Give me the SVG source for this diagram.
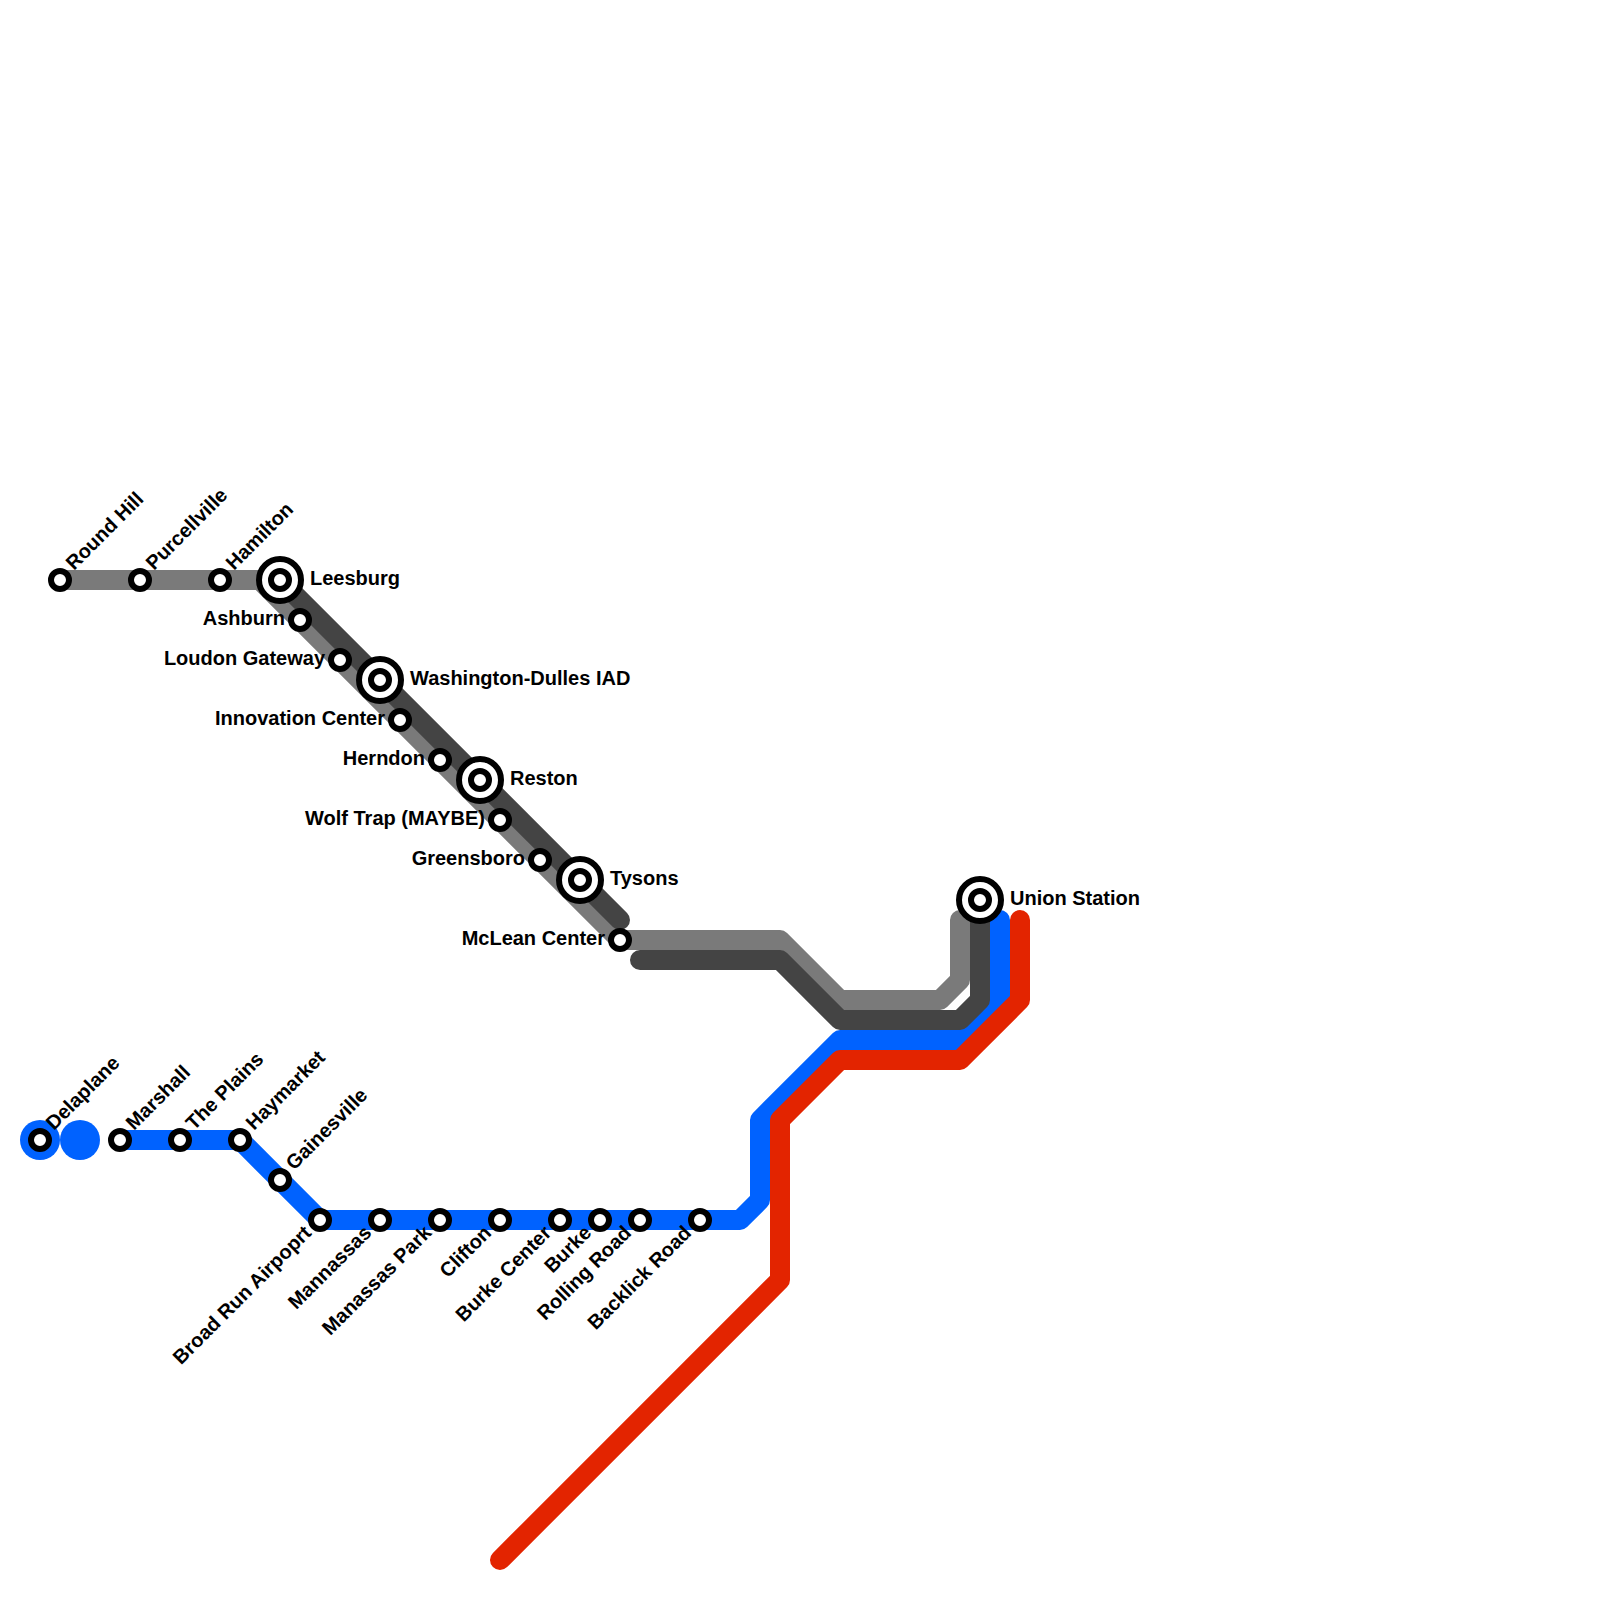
<svg xmlns="http://www.w3.org/2000/svg" width="1600" height="1600" viewBox="0 0 1600 1600">
<style>
.l{fill:none;stroke-width:20;stroke-linecap:round;stroke-linejoin:round}
.s circle{fill:#fff;stroke:#000;stroke-width:6}
text{font-family:"Liberation Sans",Arial,sans-serif;font-weight:700;font-size:20px;fill:#000}
.e{text-anchor:end}
</style>
<rect width="1600" height="1600" fill="#fff"/>
<g id="connectors">
<circle cx="40" cy="1140" r="20" fill="#0062ff"/>
<circle cx="80" cy="1140" r="20" fill="#0062ff"/>
<path class="l" stroke="#0062ff" d="M120 1140H240L320 1220H740L760 1200V1120L840 1040H960L1000 1000V920"/>
<path class="l" stroke="#e32400" d="M1020 920V1000L960 1060H840L780 1120V1280L500 1560"/>
<path class="l" stroke="#7a7a7a" d="M60 580H260L620 940H780L840 1000H940L960 980V920"/>
<path class="l" stroke="#444" d="M280 580L620 920M640 960H780L840 1020H960L980 1000V900"/>
</g>
<g id="n-round-hill" class="s"><circle cx="60" cy="580" r="9"/><text transform="translate(74 571) rotate(-45)">Round Hill</text></g>
<g id="n-purcellville" class="s"><circle cx="140" cy="580" r="9"/><text transform="translate(154 571) rotate(-45)">Purcellville</text></g>
<g id="n-hamilton" class="s"><circle cx="220" cy="580" r="9"/><text transform="translate(234 571) rotate(-45)">Hamilton</text></g>
<g id="n-leesburg" class="s"><circle cx="280" cy="580" r="21"/><circle cx="280" cy="580" r="9"/><text x="310" y="585">Leesburg</text></g>
<g id="n-ashburn" class="s"><circle cx="300" cy="620" r="9"/><text class="e" x="285" y="625">Ashburn</text></g>
<g id="n-loudon" class="s"><circle cx="340" cy="660" r="9"/><text class="e" x="325" y="665">Loudon Gateway</text></g>
<g id="n-dulles" class="s"><circle cx="380" cy="680" r="21"/><circle cx="380" cy="680" r="9"/><text x="410" y="685">Washington-Dulles IAD</text></g>
<g id="n-innovation" class="s"><circle cx="400" cy="720" r="9"/><text class="e" x="385" y="725">Innovation Center</text></g>
<g id="n-herndon" class="s"><circle cx="440" cy="760" r="9"/><text class="e" x="425" y="765">Herndon</text></g>
<g id="n-reston" class="s"><circle cx="480" cy="780" r="21"/><circle cx="480" cy="780" r="9"/><text x="510" y="785">Reston</text></g>
<g id="n-wolf-trap" class="s"><circle cx="500" cy="820" r="9"/><text class="e" x="485" y="825">Wolf Trap (MAYBE)</text></g>
<g id="n-greensboro" class="s"><circle cx="540" cy="860" r="9"/><text class="e" x="525" y="865">Greensboro</text></g>
<g id="n-tysons" class="s"><circle cx="580" cy="880" r="21"/><circle cx="580" cy="880" r="9"/><text x="610" y="885">Tysons</text></g>
<g id="n-mclean" class="s"><circle cx="620" cy="940" r="9"/><text class="e" x="605" y="945">McLean Center</text></g>
<g id="n-union" class="s"><circle cx="980" cy="900" r="21"/><circle cx="980" cy="900" r="9"/><text x="1010" y="905">Union Station</text></g>
<g id="n-delaplane" class="s"><circle cx="40" cy="1140" r="9"/><text transform="translate(54 1131) rotate(-45)">Delaplane</text></g>
<g id="n-marshall" class="s"><circle cx="120" cy="1140" r="9"/><text transform="translate(134 1131) rotate(-45)">Marshall</text></g>
<g id="n-plains" class="s"><circle cx="180" cy="1140" r="9"/><text transform="translate(194 1131) rotate(-45)">The Plains</text></g>
<g id="n-haymarket" class="s"><circle cx="240" cy="1140" r="9"/><text transform="translate(254 1131) rotate(-45)">Haymarket</text></g>
<g id="n-gainesville" class="s"><circle cx="280" cy="1180" r="9"/><text transform="translate(294 1171) rotate(-45)">Gainesville</text></g>
<g id="n-broad-run" class="s"><circle cx="320" cy="1220" r="9"/><text class="e" transform="translate(312.500 1234) rotate(-45)">Broad Run Airpoprt</text></g>
<g id="n-mannassas" class="s"><circle cx="380" cy="1220" r="9"/><text class="e" transform="translate(372.500 1234) rotate(-45)">Mannassas</text></g>
<g id="n-manassas-park" class="s"><circle cx="440" cy="1220" r="9"/><text class="e" transform="translate(432.500 1234) rotate(-45)">Manassas Park</text></g>
<g id="n-clifton" class="s"><circle cx="500" cy="1220" r="9"/><text class="e" transform="translate(492.500 1234) rotate(-45)">Clifton</text></g>
<g id="n-burke-center" class="s"><circle cx="560" cy="1220" r="9"/><text class="e" transform="translate(552.500 1234) rotate(-45)">Burke Center</text></g>
<g id="n-burke" class="s"><circle cx="600" cy="1220" r="9"/><text class="e" transform="translate(592.500 1234) rotate(-45)">Burke</text></g>
<g id="n-rolling" class="s"><circle cx="640" cy="1220" r="9"/><text class="e" transform="translate(632.500 1234) rotate(-45)">Rolling Road</text></g>
<g id="n-backlick" class="s"><circle cx="700" cy="1220" r="9"/><text class="e" transform="translate(692.500 1234) rotate(-45)">Backlick Road</text></g>
</svg>
